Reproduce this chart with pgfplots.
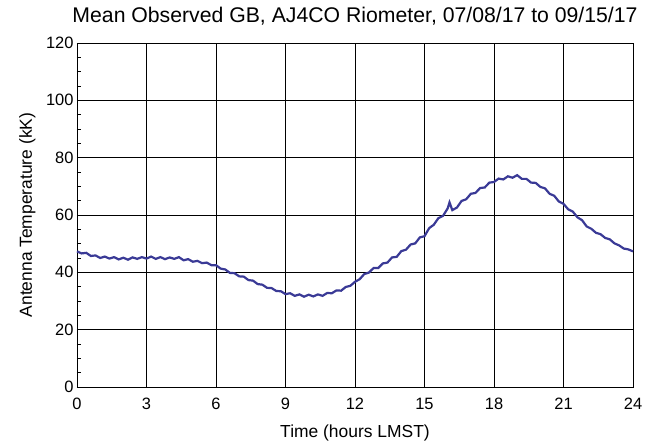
\documentclass[border=0pt]{standalone}
\usepackage{fontspec}
\setmainfont{Liberation Sans}
\usepackage{pgfplots}
\pgfplotsset{compat=1.18}
\definecolor{riolin}{RGB}{58,58,150}

\begin{document}
\begin{tikzpicture}
\begin{axis}[
    scale only axis,
    width=556bp, height=344bp,
    xmin=0, xmax=24, ymin=0, ymax=120,
    xtick={0,3,...,24},
    ytick={0,20,...,120},
    minor y tick num=3,
    grid=major,
    major grid style={black, line width=0.7bp},
    axis line style={black, line width=0.8bp},
    tick align=inside,
    ytick pos=left, xtick pos=bottom,
    major tick length=0pt,
    minor tick length=4bp,
    tick style={black, line width=0.6bp},
    /pgf/number format/assume math mode=true,
    ticklabel style={font=\fontsize{16.5}{18}\selectfont},
    xticklabel style={anchor=base, yshift=-22bp},
    title={Mean Observed GB, AJ4CO Riometer, 07/08/17 to 09/15/17},
    title style={font=\fontsize{21.3}{24}\selectfont, at={(axis description cs:0.5,1.0436)}, anchor=base},
    xlabel={Time (hours LMST)},
    xlabel style={font=\fontsize{17.5}{20}\selectfont, at={(axis description cs:0.5,-0.148)}, anchor=base},
    ylabel={Antenna Temperature (kK)},
    ylabel style={font=\fontsize{17.5}{20}\selectfont, at={(axis description cs:-0.081,0.5)}, anchor=base},
    clip=false,
]
\addplot[riolin, line width=2.2bp] coordinates {
(0.0,47.3)(0.2,46.6)(0.4,46.8)(0.6,45.7)(0.8,45.9)(1.0,45.0)(1.2,45.5)(1.4,44.8)(1.6,45.3)(1.8,44.5)
(2.0,45.1)(2.2,44.4)(2.4,45.2)(2.6,44.7)(2.8,45.3)(3.0,44.8)(3.2,45.5)(3.4,44.7)(3.6,45.3)(3.8,44.6)
(4.0,45.2)(4.2,44.7)(4.4,45.3)(4.6,44.2)(4.8,44.6)(5.0,43.7)(5.2,44.0)(5.4,43.2)(5.6,43.4)(5.8,42.5)
(6.0,42.5)(6.2,41.3)(6.4,41.0)(6.6,39.8)(6.8,39.7)(7.0,38.6)(7.2,38.5)(7.4,37.3)(7.6,37.1)(7.8,35.9)
(8.0,35.7)(8.2,34.6)(8.4,34.5)(8.6,33.5)(8.8,33.4)(9.0,32.4)(9.2,32.7)(9.4,31.8)(9.6,32.3)(9.8,31.5)
(10.0,32.2)(10.2,31.6)(10.4,32.3)(10.6,31.8)(10.8,32.8)(11.0,32.7)(11.2,33.7)(11.4,33.6)(11.6,34.9)(11.8,35.3)
(12.0,36.7)(12.2,37.6)(12.4,39.4)(12.6,39.9)(12.8,41.5)(13.0,41.5)(13.2,43.1)(13.4,43.4)(13.6,45.2)(13.8,45.4)
(14.0,47.4)(14.2,47.9)(14.4,49.7)(14.6,50.1)(14.8,52.2)(15.0,52.6)(15.2,55.4)(15.4,56.6)(15.6,58.9)(15.8,59.7)
(16.0,62.3)(16.08,64.4)(16.2,61.7)(16.4,62.6)(16.6,64.9)(16.8,65.5)(17.0,67.4)(17.2,67.7)(17.4,69.4)(17.6,69.6)
(17.8,71.3)(18.0,71.5)(18.2,72.7)(18.4,72.4)(18.6,73.5)(18.8,73.0)(19.0,73.9)(19.2,72.6)(19.4,72.6)(19.6,71.3)
(19.8,71.2)(20.0,69.8)(20.2,69.3)(20.4,67.4)(20.6,66.7)(20.8,64.7)(21.0,63.9)(21.2,62.0)(21.4,61.2)(21.6,59.2)
(21.8,58.2)(22.0,56.0)(22.2,55.2)(22.4,53.8)(22.6,53.3)(22.8,52.0)(23.0,51.5)(23.2,50.1)(23.4,49.4)(23.6,48.3)
(23.8,48.0)(24.0,47.3)
};
\path ([xshift=-77bp,yshift=-53bp]rel axis cs:0,0) rectangle ([xshift=19bp,yshift=43bp]rel axis cs:1,1);
\end{axis}
\end{tikzpicture}
\end{document}
